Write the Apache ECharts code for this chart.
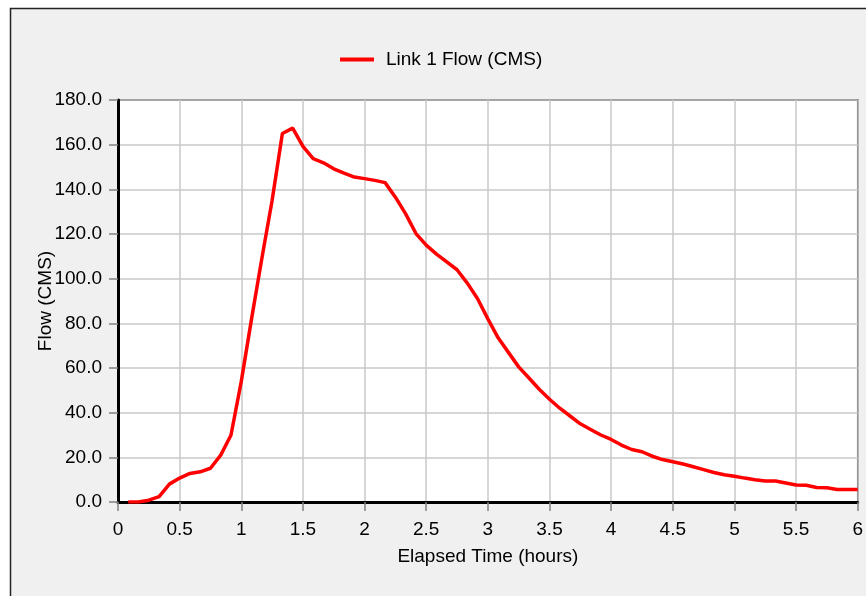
<!DOCTYPE html>
<html>
<head>
<meta charset="utf-8">
<script src="https://cdn.jsdelivr.net/npm/echarts@6/dist/echarts.min.js"></script>
<style>
html,body{margin:0;padding:0;background:#fff;}
#chart{width:866px;height:596px;}
</style>
</head>
<body>
<div id="chart"></div>
<script>
var seriesName = 'Link 1 Flow (CMS)';
var xAxisTitle = 'Elapsed Time (hours)';
var yAxisTitle = 'Flow (CMS)';
var times = [0.0833,0.1667,0.25,0.3333,0.4167,0.5,0.5833,0.6667,0.75,0.8333,0.9167,1.0,
  1.0833,1.1667,1.25,1.3333,1.4167,1.5,1.5833,1.6667,1.75,1.8333,1.9167,2.0,
  2.0833,2.1667,2.25,2.3333,2.4167,2.5,2.5833,2.6667,2.75,2.8333,2.9167,3.0,
  3.0833,3.1667,3.25,3.3333,3.4167,3.5,3.5833,3.6667,3.75,3.8333,3.9167,4.0,
  4.0833,4.1667,4.25,4.3333,4.4167,4.5,4.5833,4.6667,4.75,4.8333,4.9167,5.0,
  5.0833,5.1667,5.25,5.3333,5.4167,5.5,5.5833,5.6667,5.75,5.8333,5.9167,6.0];
var flows = [0,0,0.8,2.4,8,10.7,12.8,13.5,15.1,21,30,54,
  82,109,135,165,167.4,159.2,153.7,151.9,149.2,147.3,145.5,144.8,
  144,143,136.5,129,120.2,115,111,107.5,104,98,91,82,
  73.5,67,60.5,55.5,50.5,46,42,38.5,35,32.5,30,28,
  25.5,23.5,22.5,20.5,19,18,17,15.8,14.5,13.2,12.2,11.5,
  10.7,10,9.4,9.4,8.5,7.6,7.5,6.5,6.4,5.6,5.6,5.6];

var data = times.map(function(t, i){ return [t, flows[i]]; });
var font = 'Arial, "Liberation Sans", sans-serif';

var chart = echarts.init(document.getElementById('chart'), null, {renderer:'canvas'});
chart.setOption({
  backgroundColor: '#ffffff',
  animation: false,
  graphic: [{
    type: 'rect', z: -100, silent: true,
    shape: {x: 10.5, y: 8.5, width: 900, height: 700},
    style: {fill: '#f0f0f0', stroke: '#222', lineWidth: 1.5}
  }],
  legend: {
    top: 45, left: 335,
    itemWidth: 34, itemHeight: 4, itemGap: 10,
    icon: 'rect',
    textStyle: {fontFamily: font, fontSize: 19, color: '#000', padding: [0, 0, 0, 7]},
    data: [seriesName]
  },
  grid: {
    left: 118, top: 100, right: 7, bottom: 94,
    show: true, backgroundColor: '#ffffff', borderColor: '#000', borderWidth: 1.5
  },
  xAxis: {
    type: 'value', min: 0, max: 6, interval: 0.5,
    name: xAxisTitle, nameLocation: 'middle', nameGap: 45,
    nameTextStyle: {fontFamily: font, fontSize: 19, color: '#000'},
    axisLine: {show: true, onZero: false, lineStyle: {color: '#000', width: 3}},
    axisTick: {show: true, length: 9, lineStyle: {color: '#808080', width: 1.5}},
    axisLabel: {fontFamily: font, fontSize: 19, color: '#000', margin: 18},
    splitLine: {show: true, lineStyle: {color: '#c8c8c8', width: 1.5}}
  },
  yAxis: {
    type: 'value', min: 0, max: 180, interval: 20,
    name: yAxisTitle, nameLocation: 'middle', nameGap: 63, nameRotate: 90,
    nameMoveOverlap: false,
    nameTextStyle: {fontFamily: font, fontSize: 19, color: '#000'},
    axisLine: {show: true, lineStyle: {color: '#000', width: 3}},
    axisTick: {show: true, length: 9, lineStyle: {color: '#808080', width: 1.5}},
    axisLabel: {fontFamily: font, fontSize: 19, color: '#000', margin: 16,
      formatter: function(v){ return v.toFixed(1); }},
    splitLine: {show: true, lineStyle: {color: '#c8c8c8', width: 1.5}}
  },
  series: [{
    name: seriesName, type: 'line', data: data,
    showSymbol: false, symbol: 'none',
    lineStyle: {color: '#ff0000', width: 3.5},
    itemStyle: {color: '#ff0000'}
  }]
});
</script>
</body>
</html>
